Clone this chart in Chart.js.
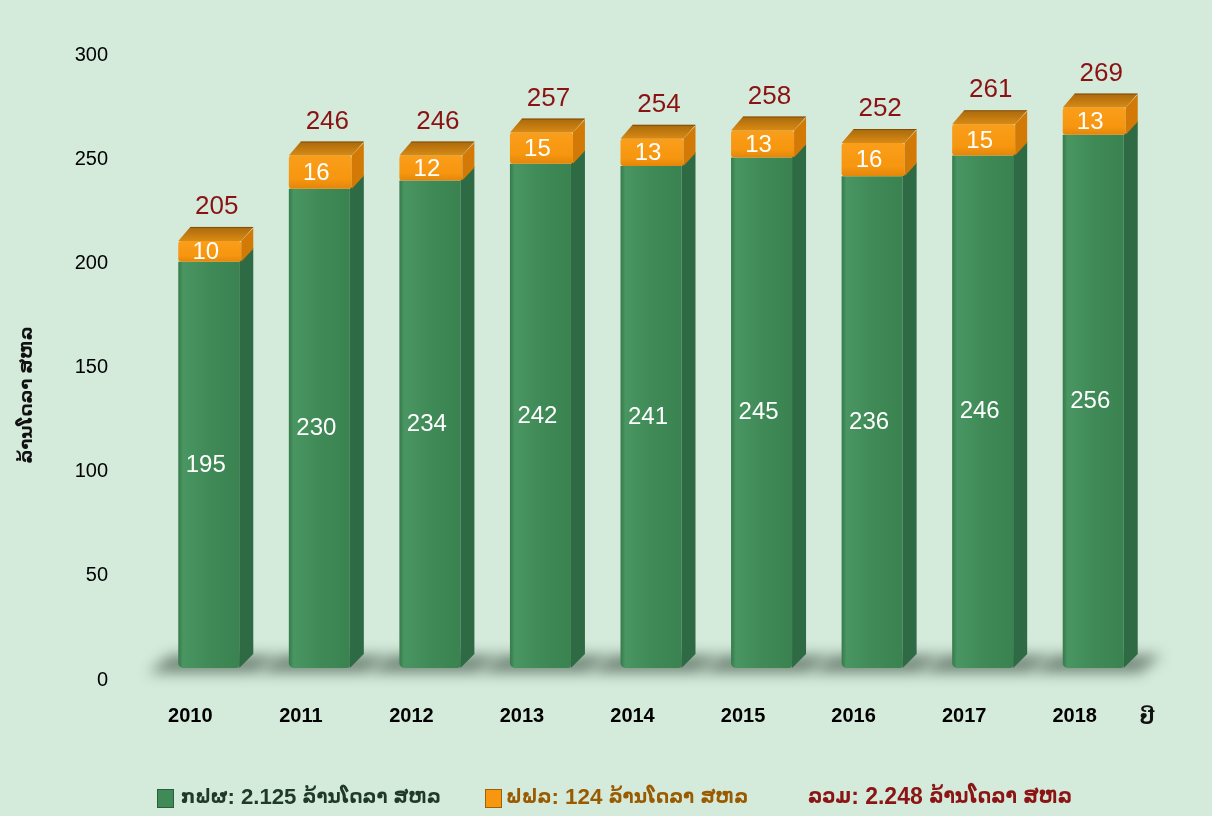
<!DOCTYPE html>
<html>
<head>
<meta charset="utf-8">
<script src="https://cdn.jsdelivr.net/npm/chart.js@4.4.1/dist/chart.umd.min.js"></script>
<style>
  html, body { margin: 0; padding: 0; background: #D4EADB; }
  #wrap { width: 1212px; height: 816px; }
</style>
</head>
<body>
<div id="wrap"><canvas id="c" width="1212" height="816"></canvas></div>
<script>
// ---------- DATA ----------
const categories = ['2010', '2011', '2012', '2013', '2014', '2015', '2016', '2017', '2018'];
const genValues  = [195, 230, 234, 242, 241, 245, 236, 246, 256];   // ກຟຜ
const edlValues  = [10, 16, 12, 15, 13, 13, 16, 15, 13];            // ຟຟລ
const totalValues = [205, 246, 246, 257, 254, 258, 252, 261, 269];   // ລວມ
const yTickValues = [0, 50, 100, 150, 200, 250, 300];
const seriesNames = ['ກຟຜ', 'ຟຟລ'];
const legendTexts = ['ກຟຜ: 2.125 ລ້ານໂດລາ ສຫລ', 'ຟຟລ: 124 ລ້ານໂດລາ ສຫລ', 'ລວມ: 2.248 ລ້ານໂດລາ ສຫລ'];
const yTitle = 'ລ້ານໂດລາ ສຫລ';
const xTitle = 'ປີ';

// ---------- STYLE ----------
const FONT = '"Liberation Sans", Arial, "DejaVu Sans", sans-serif';
const LAO_FONT = '"DejaVu Sans Condensed", "DejaVu Sans", sans-serif';
const BG = '#D4EADB';
const GREEN = '#3F8A56', GREEN_SIDE = '#2E6A43', GREEN_LIGHT = '#4A9662';
const ORANGE = '#F7960F', ORANGE_SIDE = '#D37A06';
const LIFT = 12, DX = 14, DY = 14, FRONT_OFF = -12, FRONT_W = 61;

function frontBox(cx) {
  const x0 = cx + FRONT_OFF;
  return { x0, x1: x0 + FRONT_W };
}

function poly(ctx, pts) {
  ctx.beginPath();
  ctx.moveTo(pts[0][0], pts[0][1]);
  for (let i = 1; i < pts.length; i++) ctx.lineTo(pts[i][0], pts[i][1]);
  ctx.closePath();
}

// split text into Lao / non-Lao runs
function runs(text) {
  const out = [];
  for (const ch of text) {
    const lao = /[\u0E80-\u0EFF]/.test(ch);
    const isSpace = ch === ' ';
    const last = out[out.length - 1];
    if (last && (last.lao === lao || isSpace)) last.t += ch;
    else out.push({ lao, t: ch });
  }
  return out;
}
function runFont(r, scale) {
  return r.lao ? 'bold ' + (18 * scale).toFixed(1) + 'px ' + LAO_FONT
               : 'bold ' + (20 * scale).toFixed(1) + 'px ' + FONT;
}
function runsWidth(ctx, rs, scale) {
  let w = 0;
  rs.forEach(r => { ctx.font = runFont(r, scale); w += ctx.measureText(r.t).width; });
  return w;
}

const bars3d = {
  id: 'bars3d',
  beforeDraw(chart) {
    const ctx = chart.ctx;
    ctx.save();
    ctx.fillStyle = BG;
    ctx.fillRect(0, 0, chart.width, chart.height);
    ctx.restore();
  },
  beforeDatasetsDraw(chart) {
    const ctx = chart.ctx;
    const y = chart.scales.y;
    const meta = chart.getDatasetMeta(0);
    const base = y.getPixelForValue(0) - LIFT;
    ctx.save();
    ctx.filter = 'blur(7px)';
    ctx.fillStyle = 'rgba(35,55,40,0.55)';
    meta.data.forEach(el => {
      const { x0, x1 } = frontBox(el.x);
      poly(ctx, [[x0 - 30, base + 5], [x0 - 8, base - 13], [x1 + DX + 24, base - 13], [x1 + DX + 2, base + 5]]);
      ctx.fill();
    });
    ctx.restore();
  },
  afterDatasetsDraw(chart) {
    const ctx = chart.ctx;
    const y = chart.scales.y;
    const meta0 = chart.getDatasetMeta(0);
    const yBase = y.getPixelForValue(0) - LIFT;
    ctx.save();
    meta0.data.forEach((el, i) => {
      const { x0, x1 } = frontBox(el.x);
      const yG = y.getPixelForValue(genValues[i]) - LIFT;
      const yT = y.getPixelForValue(genValues[i] + edlValues[i]) - LIFT;
      // green front
      let g = ctx.createLinearGradient(x0, 0, x1, 0);
      g.addColorStop(0, '#357A4B');
      g.addColorStop(0.08, GREEN_LIGHT);
      g.addColorStop(0.5, GREEN);
      g.addColorStop(1, '#3A8351');
      ctx.fillStyle = g;
      ctx.beginPath();
      ctx.roundRect(x0, yG, x1 - x0, yBase - yG, [0, 0, 3, 5]);
      ctx.fill();
      // green side
      ctx.fillStyle = GREEN_SIDE;
      poly(ctx, [[x1, yG], [x1 + DX, yG - DY], [x1 + DX, yBase - DY], [x1, yBase]]);
      ctx.fill();
      // orange front
      g = ctx.createLinearGradient(0, yT, 0, yG);
      g.addColorStop(0, '#FA9E1A');
      g.addColorStop(0.7, ORANGE);
      g.addColorStop(1, '#E3860A');
      ctx.fillStyle = g;
      ctx.beginPath();
      ctx.roundRect(x0, yT, x1 - x0 + 2, yG - yT, 3);
      ctx.fill();
      // orange side
      ctx.fillStyle = ORANGE_SIDE;
      poly(ctx, [[x1 + 2, yT], [x1 + DX, yT - DY + 1], [x1 + DX, yG - DY + 1], [x1 + 2, yG]]);
      ctx.fill();
      // orange top
      g = ctx.createLinearGradient(0, yT - DY, 0, yT);
      g.addColorStop(0, '#A9690C');
      g.addColorStop(1, '#D98A14');
      ctx.fillStyle = g;
      poly(ctx, [[x0, yT], [x0 + DX - 2, yT - DY], [x1 + DX, yT - DY], [x1 + 2, yT]]);
      ctx.fill();
      ctx.strokeStyle = 'rgba(90,50,0,0.5)';
      ctx.lineWidth = 1;
      ctx.beginPath();
      ctx.moveTo(x0 + DX - 2, yT - DY + 0.5);
      ctx.lineTo(x1 + DX, yT - DY + 0.5);
      ctx.stroke();

      // labels
      ctx.textAlign = 'center';
      ctx.textBaseline = 'middle';
      ctx.fillStyle = '#FFFFFF';
      ctx.font = '24px ' + FONT;
      ctx.fillText(String(genValues[i]), (x0 + x1) / 2 - 3, (yG + yBase) / 2);
      ctx.fillText(String(edlValues[i]), (x0 + x1) / 2 - 3, (yT + yG) / 2 + 1);
      ctx.fillStyle = '#8B1212';
      ctx.font = '26px ' + FONT;
      ctx.fillText(String(totalValues[i]), (x0 + x1 + DX) / 2 + 1, yT - DY - 20);
    });
    ctx.restore();
  },
  afterDraw(chart) {
    const ctx = chart.ctx;
    ctx.save();
    // y title
    ctx.translate(27, 395);
    ctx.rotate(-Math.PI / 2);
    ctx.font = 'bold 18px ' + FONT;
    ctx.fillStyle = '#111';
    ctx.textAlign = 'center';
    ctx.textBaseline = 'middle';
    ctx.fillText(yTitle, 0, 0);
    ctx.restore();

    ctx.save();
    ctx.font = 'bold 20px ' + FONT;
    ctx.fillStyle = '#111';
    ctx.textAlign = 'center';
    ctx.textBaseline = 'middle';
    ctx.fillText(xTitle, 1147, 718);
    ctx.restore();

    // legend
    ctx.save();
    const items = [
      { box: GREEN, border: '#2B5E3A', text: legendTexts[0], color: '#1F3A27', bx: 157, tx: 181, tw: 260 },
      { box: ORANGE, border: '#9A6210', text: legendTexts[1], color: '#9A5A00', bx: 485, tx: 506, tw: 242 },
      { box: null, text: legendTexts[2], color: '#8B1414', tx: 808, tw: 268 }
    ];
    const ly = 798;
    items.forEach(it => {
      if (it.box) {
        ctx.fillStyle = it.box;
        ctx.fillRect(it.bx, ly - 9, 17, 19);
        ctx.strokeStyle = it.border;
        ctx.lineWidth = 1;
        ctx.strokeRect(it.bx + 0.5, ly - 8.5, 16, 18);
      }
      const rs = runs(it.text);
      const w = runsWidth(ctx, rs, 1);
      const scale = Math.max(0.8, Math.min(1.15, it.tw / w));
      ctx.fillStyle = it.color;
      ctx.textAlign = 'left';
      ctx.textBaseline = 'middle';
      let x = it.tx;
      rs.forEach(r => {
        ctx.font = runFont(r, scale);
        ctx.fillText(r.t, x, ly);
        x += ctx.measureText(r.t).width;
      });
    });
    ctx.restore();
  }
};

new Chart(document.getElementById('c'), {
  type: 'bar',
  data: {
    labels: categories,
    datasets: [
      { label: seriesNames[0], data: genValues, backgroundColor: 'rgba(0,0,0,0)', borderWidth: 0 },
      { label: seriesNames[1], data: edlValues, backgroundColor: 'rgba(0,0,0,0)', borderWidth: 0 }
    ]
  },
  options: {
    responsive: false,
    animation: false,
    devicePixelRatio: 1,
    layout: { padding: { top: 55, right: 82, bottom: 0, left: 0 } },
    plugins: { legend: { display: false }, tooltip: { enabled: false } },
    scales: {
      x: {
        stacked: true,
        grid: { display: false },
        border: { display: false },
        ticks: { color: '#000', font: { family: FONT, size: 20, weight: 'bold' }, padding: 16 },
        afterFit(s) { s.height = 136; }
      },
      y: {
        stacked: true,
        min: 0, max: 300,
        grid: { display: false },
        border: { display: false },
        afterBuildTicks(s) { s.ticks = yTickValues.map(v => ({ value: v })); },
        ticks: { color: '#000', font: { family: FONT, size: 20 }, padding: 19 },
        afterFit(s) { s.width = 135; }
      }
    }
  },
  plugins: [bars3d]
});
</script>
</body>
</html>
